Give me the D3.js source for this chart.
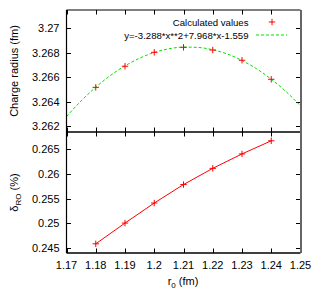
<!DOCTYPE html>
<html><head><meta charset="utf-8">
<script src="https://cdn.jsdelivr.net/npm/d3@7"></script>
<style>body{margin:0;background:#fff}svg{display:block;font-family:"Liberation Sans",Arial,sans-serif}</style>
</head><body>
<svg id="c" width="316" height="294"></svg>
<script>
const r0 = [1.18, 1.19, 1.20, 1.21, 1.22, 1.23, 1.24];
const chargeRadius = [3.26516, 3.26689, 3.26803, 3.26844, 3.26822, 3.26738, 3.26582];
const fitX = [1.17,1.175,1.18,1.185,1.19,1.195,1.20,1.205,1.21,1.215,1.22,1.225,1.23,1.235,1.24,1.245,1.25];
const fitY = [3.26276,3.26405,3.26517,3.26613,3.26692,3.26755,3.26802,3.26832,3.26846,3.26843,3.26824,3.26789,3.26736,3.26668,3.26583,3.26482,3.26364];
const deltaRO = [0.24586, 0.25006, 0.25412, 0.25786, 0.26114, 0.26406, 0.26672];
const xTicks = [1.17,1.18,1.19,1.20,1.21,1.22,1.23,1.24,1.25];
const yTopTicks = [3.262,3.264,3.266,3.268,3.270];
const yBotTicks = [0.245,0.250,0.255,0.260,0.265];
const legendLabels = ["Calculated values", "y=-3.288*x**2+7.968*x-1.559"];

const svg = d3.select("#c");
const L = 66.5, R = 300.5, T = 10, M = 132, B = 253;
const x = d3.scaleLinear().domain([1.17,1.25]).range([L,R]);
const yT = d3.scaleLinear().domain([3.2615,3.2715]).range([M,T]);
const yB = d3.scaleLinear().domain([0.244,0.2685]).range([B,M]);
const tl = 4.5;

svg.append("clipPath").attr("id","cp1").append("rect").attr("x",L).attr("y",T).attr("width",R-L).attr("height",M-T);

function fmtX(d){ return d===1.2 ? "1.2" : d3.format(".2f")(d); }
function fmtT(d){ return Math.abs(d-3.27)<1e-9 ? "3.27" : d3.format(".3f")(d); }
function fmtB(d){ return (Math.abs(d-0.25)<1e-9) ? "0.25" : (Math.abs(d-0.26)<1e-9 ? "0.26" : d3.format(".3f")(d)); }

const g = svg.append("g").attr("stroke","#000").attr("stroke-width",1);
// ticks x
xTicks.forEach(d=>{
  const px = Math.round(x(d))+0.5;
  g.append("line").attr("x1",px).attr("x2",px).attr("y1",T).attr("y2",T+tl);
  g.append("line").attr("x1",px).attr("x2",px).attr("y1",M-tl).attr("y2",M+tl);
  g.append("line").attr("x1",px).attr("x2",px).attr("y1",B-tl).attr("y2",B);
});
yTopTicks.forEach(d=>{
  const py = Math.round(yT(d))+0.5;
  g.append("line").attr("x1",L).attr("x2",L+tl).attr("y1",py).attr("y2",py);
  g.append("line").attr("x1",R-tl).attr("x2",R).attr("y1",py).attr("y2",py);
});
yBotTicks.forEach(d=>{
  const py = Math.round(yB(d))+0.5;
  g.append("line").attr("x1",L).attr("x2",L+tl).attr("y1",py).attr("y2",py);
  g.append("line").attr("x1",R-tl).attr("x2",R).attr("y1",py).attr("y2",py);
});

// tick labels
const tg = svg.append("g").attr("font-size",11).attr("fill","#000");
xTicks.forEach(d=>{
  tg.append("text").attr("x",x(d)).attr("y",269).attr("text-anchor","middle").text(fmtX(d));
});
yTopTicks.forEach(d=>{
  tg.append("text").attr("x",59.5).attr("y",yT(d)+4).attr("text-anchor","end").text(fmtT(d));
});
yBotTicks.forEach(d=>{
  tg.append("text").attr("x",59.5).attr("y",yB(d)+4).attr("text-anchor","end").text(fmtB(d));
});

// fit curve
const line = d3.line().x(d=>x(d[0])).y(d=>yT(d[1])).curve(d3.curveMonotoneX);
svg.append("path").attr("clip-path","url(#cp1)").attr("d",line(fitX.map((v,i)=>[v,fitY[i]])))
  .attr("fill","none").attr("stroke","#00e000").attr("stroke-width",1).attr("stroke-dasharray","3,2");

function plus(sel, cx, cy){
  const s=3.2;
  sel.append("path").attr("d",`M${cx-s},${cy}H${cx+s}M${cx},${cy-s}V${cy+s}`).attr("stroke","#ff0000").attr("stroke-width",1).attr("fill","none");
}
const pg = svg.append("g");
r0.forEach((v,i)=>plus(pg, x(v), yT(chargeRadius[i])));

// bottom line
const line2 = d3.line().x(d=>x(d[0])).y(d=>yB(d[1]));
svg.append("path").attr("d",line2(r0.map((v,i)=>[v,deltaRO[i]]))).attr("fill","none").attr("stroke","#ff0000").attr("stroke-width",1);
r0.forEach((v,i)=>plus(pg, x(v), yB(deltaRO[i])));
pg.raise();

// frame
svg.append("path").attr("d",`M${L},${T}H${R}`).attr("stroke","#000").attr("stroke-width",1);
svg.append("path").attr("d",`M${L},${T}V${B}`).attr("stroke","#000").attr("stroke-width",1.2);
svg.append("path").attr("d",`M${L},${M}H${R}`).attr("stroke","#000").attr("stroke-width",1.6);
svg.append("path").attr("d",`M${L},${B}H${R}`).attr("stroke","#000").attr("stroke-width",1.6);
svg.append("path").attr("d",`M${R+0.5},${T}V${B}`).attr("stroke","#666").attr("stroke-width",2);

// legend
const lg = svg.append("g").attr("font-size",9.6).attr("fill","#000");
lg.append("text").attr("x",248.5).attr("y",25.5).attr("text-anchor","end").text(legendLabels[0]);
lg.append("text").attr("x",248.5).attr("y",38.5).attr("text-anchor","end").text(legendLabels[1]);
plus(svg, 272, 22);
svg.append("line").attr("x1",256).attr("x2",287).attr("y1",35).attr("y2",35).attr("stroke","#00e000").attr("stroke-dasharray","3,2");

// axis labels
svg.append("text").attr("transform",`translate(18,${(T+M)/2}) rotate(-90)`).attr("text-anchor","middle").attr("font-size",11).text("Charge radius (fm)");
const yl = svg.append("text").attr("transform",`translate(18,${(M+B)/2}) rotate(-90)`).attr("text-anchor","middle").attr("font-size",11);
yl.append("tspan").text("δ");
yl.append("tspan").attr("font-size",8).attr("dy",3).text("RO");
yl.append("tspan").attr("dy",-3).text(" (%)");
const xl = svg.append("text").attr("x",183).attr("y",285).attr("text-anchor","middle").attr("font-size",11);
xl.append("tspan").text("r");
xl.append("tspan").attr("font-size",8).attr("dy",3).text("0");
xl.append("tspan").attr("dy",-3).text(" (fm)");
</script>
</body></html>
